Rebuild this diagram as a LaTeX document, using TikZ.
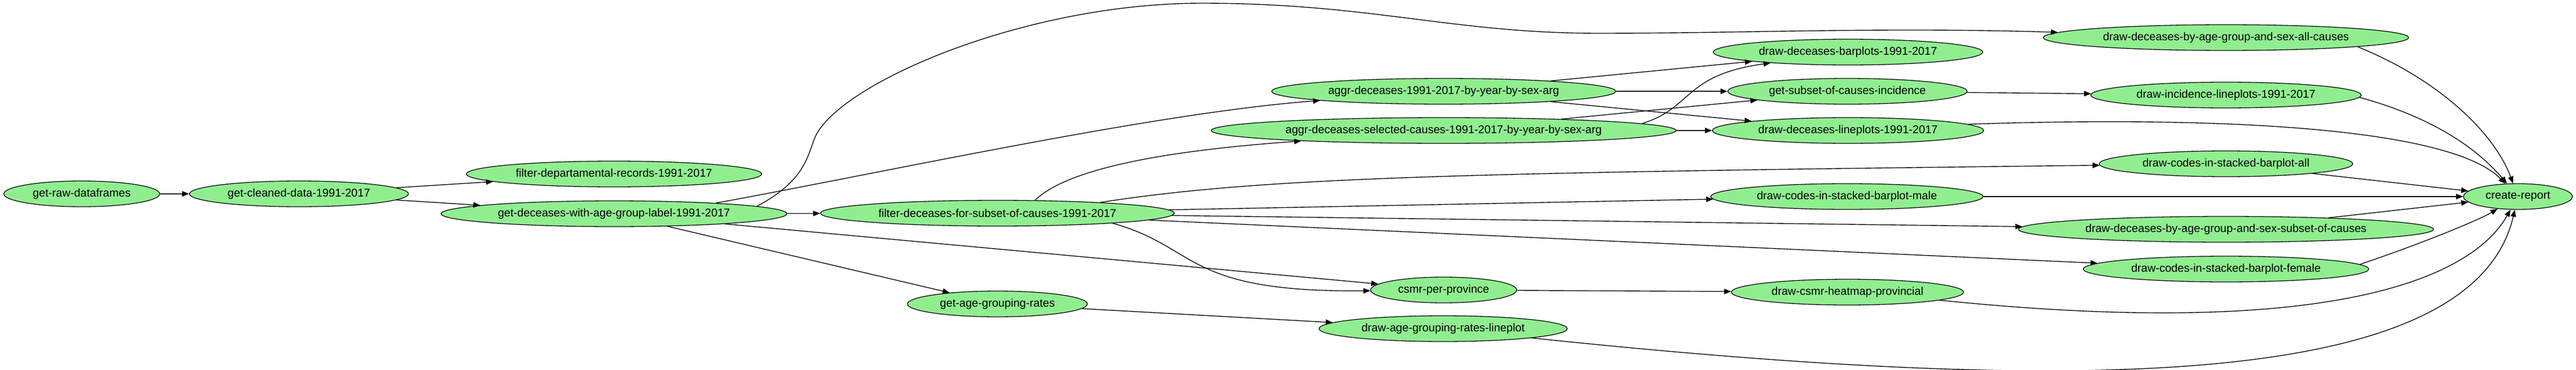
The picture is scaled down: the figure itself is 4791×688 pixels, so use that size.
\documentclass[tikz,border=0pt]{standalone}
\usepackage{fontspec}
\setmainfont{Liberation Sans}
\usetikzlibrary{shapes.geometric,arrows.meta}
\definecolor{nodegreen}{RGB}{144,238,144}

\begin{document}
\begin{tikzpicture}[x=1pt,y=-1pt,
                every node/.style={draw,ellipse,fill=nodegreen,line width=1.3pt,
                  inner xsep=11.5pt,inner ysep=2pt,minimum height=48pt,
                  font=\fontsize{21}{25}\selectfont},
                dep/.style={line width=1.4pt,-{Triangle[length=13pt,width=10pt]}}]
\useasboundingbox (0,0) rectangle (4791,688);
% tasks
\node (raw) at (152,361) {get-raw-dataframes};
\node (clean) at (556,361) {get-cleaned-data-1991-2017};
\node (fdep) at (1142,324) {filter-departamental-records-1991-2017};
\node (dag) at (1142,398) {get-deceases-with-age-group-label-1991-2017};
\node (fsub) at (1855,397) {filter-deceases-for-subset-of-causes-1991-2017};
\node (rates) at (1855,566) {get-age-grouping-rates};
\node (aggr) at (2685,170) {aggr-deceases-1991-2017-by-year-by-sex-arg};
\node (aggrsel) at (2685,243) {aggr-deceases-selected-causes-1991-2017-by-year-by-sex-arg};
\node (csmr) at (2685,540) {csmr-per-province};
\node (rline) at (2684,612) {draw-age-grouping-rates-lineplot};
\node (bar) at (3437,97) {draw-deceases-barplots-1991-2017};
\node (subinc) at (3436,170) {get-subset-of-causes-incidence};
\node (line) at (3437,243) {draw-deceases-lineplots-1991-2017};
\node (cmm) at (3435,366) {draw-codes-in-stacked-barplot-male};
\node (heat) at (3436,544) {draw-csmr-heatmap-provincial};
\node (allc) at (4140,70) {draw-deceases-by-age-group-and-sex-all-causes};
\node (inc) at (4140,177) {draw-incidence-lineplots-1991-2017};
\node (cma) at (4140,305) {draw-codes-in-stacked-barplot-all};
\node (subc) at (4140,427) {draw-deceases-by-age-group-and-sex-subset-of-causes};
\node (cmf) at (4140,501) {draw-codes-in-stacked-barplot-female};
\node (report) at (4683,366) {create-report};
% dependencies
\draw[dep] (raw) -- (clean);
\draw[dep] (clean) -- (fdep);
\draw[dep] (clean) -- (dag);
\draw[dep] (dag) -- (fsub);
\draw[dep] (dag.6) .. controls (1650,320) and (2150,210) .. (aggr);
\draw[dep] (dag.3) .. controls (1490,340) and (1500,300) .. (1514,260)
  .. controls (1550,160) and (1900,6) .. (2235,6)
  .. controls (2550,6) and (2700,62) .. (2973,62)
  .. controls (3250,62) and (3500,50) .. (allc);
\draw[dep] (dag) -- (csmr);
\draw[dep] (dag) -- (rates);
\draw[dep] (fsub.19) .. controls (2000,300) and (2250,275) .. (aggrsel);
\draw[dep] (fsub.6) .. controls (2350,330) and (2700,322) .. (cma);
\draw[dep] (fsub) -- (cmm);
\draw[dep] (fsub) -- (subc);
\draw[dep] (fsub) -- (cmf);
\draw[dep] (fsub.-5) .. controls (2230,460) and (2200,545) .. (csmr);
\draw[dep] (aggr) -- (bar);
\draw[dep] (aggr) -- (subinc);
\draw[dep] (aggr) -- (line);
\draw[dep] (aggrsel) -- (subinc);
\draw[dep] (aggrsel.2.2) .. controls (3150,200) and (3130,140) .. (bar);
\draw[dep] (aggrsel) -- (line);
\draw[dep] (subinc) -- (inc);
\draw[dep] (rates) -- (rline);
\draw[dep] (csmr) -- (heat);
\draw[dep] (allc.-4) .. controls (4540,150) and (4640,250) .. (report);
\draw[dep] (inc.-1.5) .. controls (4530,220) and (4610,280) .. (report);
\draw[dep] (line.3) .. controls (4150,215) and (4560,240) .. (report);
\draw[dep] (cma) -- (report);
\draw[dep] (cmm) -- (report);
\draw[dep] (subc) -- (report);
\draw[dep] (cmf.2) .. controls (4500,455) and (4610,410) .. (report);
\draw[dep] (heat.-5.5) .. controls (4300,630) and (4590,530) .. (report);
\draw[dep] (rline.-6) .. controls (3900,740) and (4600,720) .. (report);
\end{tikzpicture}
\end{document}
